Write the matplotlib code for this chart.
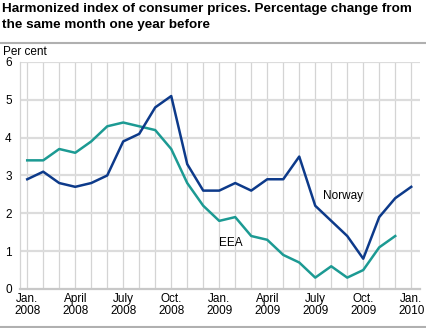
import matplotlib
matplotlib.use("Agg")
import matplotlib.pyplot as plt
from matplotlib.lines import Line2D

plt.rcParams['font.family'] = ['Liberation Sans', 'DejaVu Sans']

months = list(range(25))  # Jan. 2008 .. Jan. 2010
norway = [2.9, 3.1, 2.8, 2.7, 2.8, 3.0, 3.9, 4.1, 4.8, 5.1, 3.3, 2.6,
          2.6, 2.8, 2.6, 2.9, 2.9, 3.5, 2.2, 1.8, 1.4, 0.8, 1.9, 2.4,
          2.7]
eea = [3.4, 3.4, 3.7, 3.6, 3.9, 4.3, 4.4, 4.3, 4.2, 3.7, 2.8, 2.2,
       1.8, 1.9, 1.4, 1.3, 0.9, 0.7, 0.3, 0.6, 0.3, 0.5, 1.1, 1.4]
tick_pos = [0, 3, 6, 9, 12, 15, 18, 21, 24]
tick_labels = ["Jan.\n2008", "April\n2008", "July\n2008", "Oct.\n2008",
               "Jan.\n2009", "April\n2009", "July\n2009", "Oct.\n2009",
               "Jan.\n2010"]
y_ticks = [0, 1, 2, 3, 4, 5, 6]

norway_color = "#0d3a8a"
eea_color = "#1c9a93"
grid_color = "#d4d4d4"

fig = plt.figure(figsize=(4.26, 3.28), dpi=100)
ax = fig.add_axes([0.047, 0.119, 0.939, 0.692])

ax.set_xlim(-0.45, 24.55)
ax.set_ylim(0, 6)

# monthly vertical grid and horizontal grid
for m in months:
    ax.axvline(m, color=grid_color, lw=0.9, zorder=0)
for y in y_ticks[1:]:
    ax.axhline(y, color="#dcdcdc", lw=1.6, zorder=0)

ax.plot(months[:len(eea)], eea, color=eea_color, lw=1.8, zorder=3)
ax.plot(months, norway, color=norway_color, lw=1.8, zorder=3)

ax.text(18.5, 2.45, "Norway", fontsize=8.5, va="center", ha="left", color="black")
ax.text(12.0, 1.22, "EEA", fontsize=8.5, va="center", ha="left", color="black")

ax.set_xticks(tick_pos)
ax.set_xticklabels(tick_labels, fontsize=8.5, linespacing=1.0)
ax.set_yticks(y_ticks)
ax.set_yticklabels([str(v) for v in y_ticks], fontsize=8.5)
ax.tick_params(axis='both', length=0, pad=3)
ax.tick_params(axis='y', pad=6)

for side in ["top", "right"]:
    ax.spines[side].set_visible(False)
ax.spines["left"].set_color(grid_color)
ax.spines["left"].set_linewidth(0.9)
ax.spines["bottom"].set_color("#c8c8c8")
ax.spines["bottom"].set_linewidth(1.6)

fig.text(0.005, 0.99, "Harmonized index of consumer prices. Percentage change from\nthe same month one year before",
         fontsize=9.7, fontweight="bold", va="top", ha="left", linespacing=1.4)
fig.add_artist(Line2D([0, 1], [0.868, 0.868], color="#b0b0b0", lw=1.5,
                      transform=fig.transFigure))
fig.add_artist(Line2D([0, 1], [0.003, 0.003], color="#b0b0b0", lw=1.5,
                      transform=fig.transFigure))
fig.text(0.007, 0.84, "Per cent", fontsize=8.5, va="center", ha="left")

fig.savefig("out.png", dpi=100)
